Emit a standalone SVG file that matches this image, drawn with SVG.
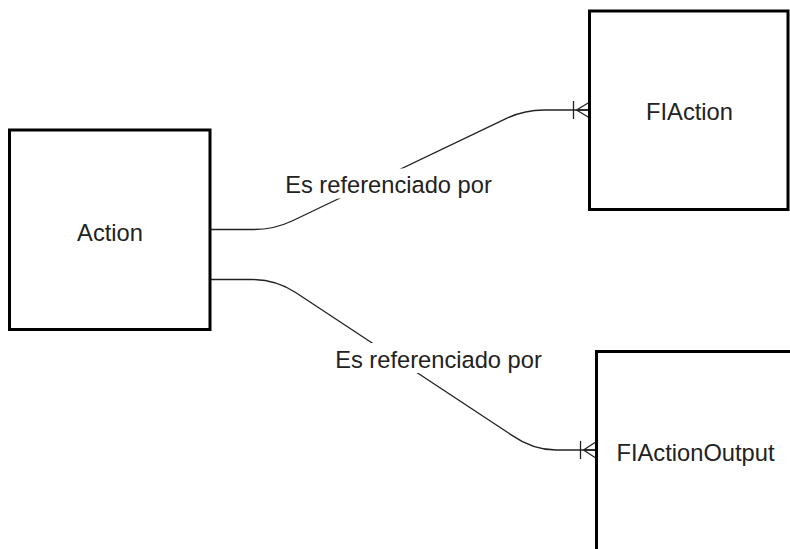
<svg xmlns="http://www.w3.org/2000/svg" width="790" height="549" viewBox="0 0 790 549">
<style>
.box{fill:#fff;stroke:#000;stroke-width:3}
.lbl{font-family:"Liberation Sans",Arial,sans-serif;font-size:23.7px;fill:#222;text-anchor:middle}
.edge{fill:none;stroke:#222;stroke-width:1.3}
.bg{fill:#fff}
</style>
<rect width="790" height="549" fill="#fff"/>
<g id="connectors">
<g id="e1">
<path class="edge" d="M211,229.5 L254,229.5 Q274,229.5 292,221 L506,118.6 Q524,110 544,110 L589,110"/>
<path class="edge" d="M573.5,101 L573.5,119 M576.5,110 L589,102.5 M576.5,110 L589,110 M576.5,110 L589,117.5"/>
<rect class="bg" x="284" y="168.5" width="210" height="30"/>
<text class="lbl" x="388.5" y="193">Es referenciado por</text>
</g>
<g id="e2">
<path class="edge" d="M211,279.5 L252,279.5 Q276,279.5 296,292.7 L512,435.4 Q533,450 556,450 L595,450"/>
<path class="edge" d="M580.5,441 L580.5,459 M583.5,450 L595,442.5 M583.5,450 L595,450 M583.5,450 L595,457.5"/>
<rect class="bg" x="333" y="343" width="211" height="30"/>
<text class="lbl" x="438.5" y="368">Es referenciado por</text>
</g>
</g>
<g id="node-action">
<rect class="box" x="9.5" y="130" width="200.5" height="199.5"/>
<text class="lbl" x="110" y="241">Action</text>
</g>
<g id="node-fiaction">
<rect class="box" x="589.5" y="11" width="198.5" height="198.5"/>
<text class="lbl" x="689.5" y="120">FIAction</text>
</g>
<g id="node-fiactionoutput">
<rect class="box" x="596.5" y="351.5" width="200" height="200"/>
<text class="lbl" x="695.5" y="460.5">FIActionOutput</text>
</g>
</svg>
